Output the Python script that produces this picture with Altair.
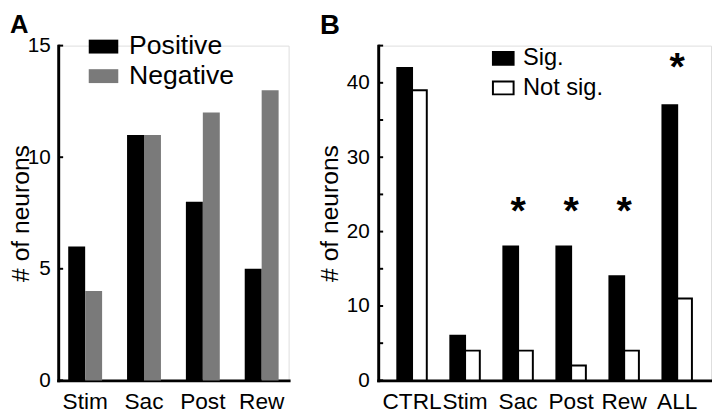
import altair as alt
import pandas as pd

FONT = "Liberation Sans"

# ---- Panel A data ----
a_cats = ["Stim", "Sac", "Post", "Rew"]
a_series = ["Positive", "Negative"]
a_positive = [6, 11, 8, 5]
a_negative = [4, 11, 12, 13]
a_ticks = [0, 5, 10, 15]

# ---- Panel B data ----
b_cats = ["CTRL", "Stim", "Sac", "Post", "Rew", "ALL"]
b_series = ["Sig.", "Not sig."]
b_sig = [42, 6, 18, 18, 14, 37]
b_not = [39, 4, 4, 2, 4, 11]
b_ticks = [0, 5, 10, 15, 20, 25, 30, 35, 40, 45]
b_labels = [0, 10, 20, 30, 40]
star_cats = ["Sac", "Post", "Rew", "ALL"]
star_y = [23.3, 23.3, 23.3, 42.6]

df_a = pd.DataFrame(
    [{"cat": c, "series": "Positive", "n": v} for c, v in zip(a_cats, a_positive)]
    + [{"cat": c, "series": "Negative", "n": v} for c, v in zip(a_cats, a_negative)]
)
df_b = pd.DataFrame(
    [{"cat": c, "series": "Sig.", "n": v} for c, v in zip(b_cats, b_sig)]
    + [{"cat": c, "series": "Not sig.", "n": v} for c, v in zip(b_cats, b_not)]
)
df_at = pd.DataFrame({"n": a_ticks})
df_bt = pd.DataFrame({"n": b_ticks})
df_star = pd.DataFrame({"cat": star_cats, "n": star_y})

A_W, A_H = 234, 340
B_W, B_H = 338, 340

def x_axis():
    return alt.Axis(title=None, labelAngle=0, tickSize=0, domainWidth=3,
                    domainColor="black", domainCap="square",
                    labelFontSize=23, labelPadding=11, labelColor="black",
                    labelFont=FONT)

def y_axis(values, title_x, pad):
    return alt.Axis(values=values, title="# of neurons", grid=False, tickSize=0,
                    domainWidth=3, domainColor="black", domainCap="square",
                    labelFontSize=21, labelPadding=pad, labelColor="black",
                    labelFont=FONT,
                    titleFontSize=25, titleFontWeight="normal", titleFont=FONT,
                    titleColor="black", titleAngle=270, titleBaseline="alphabetic",
                    titleAlign="center", titleX=title_x, titleY=170)

# ---------- Panel A ----------
ya = alt.Scale(domain=[0, 15], nice=False, zero=True)
xa = alt.Scale(domain=a_cats, paddingInner=0.424, paddingOuter=0.17)
ya_axis = y_axis(a_ticks, -30, 8)

bars_a = alt.Chart(df_a).mark_bar().encode(
    x=alt.X("cat:N", sort=a_cats, scale=xa, axis=x_axis()),
    xOffset=alt.XOffset("series:N", sort=a_series,
                        scale=alt.Scale(domain=a_series, paddingInner=0, paddingOuter=0)),
    y=alt.Y("n:Q", scale=ya, axis=ya_axis),
    color=alt.Color("series:N", sort=a_series,
                    scale=alt.Scale(domain=a_series, range=["#000000", "#7a7a7a"]),
                    legend=alt.Legend(title=None, orient="none", legendX=31, legendY=-14,
                                      symbolType="M-1,-0.47H1V0.47H-1Z", symbolSize=900,
                                      symbolStrokeWidth=0, labelFontSize=27,
                                      labelFont=FONT, labelColor="black",
                                      labelOffset=11, rowPadding=2, padding=0,
                                      symbolOffset=0)),
)

ticks_a = alt.Chart(df_at).mark_rule(color="black", strokeWidth=2).encode(
    y=alt.Y("n:Q", scale=ya, axis=ya_axis),
    x=alt.value(0),
    x2=alt.value(5),
)

label_a = alt.Chart(pd.DataFrame({"k": ["A"]})).mark_text(
    text="A", font=FONT, fontSize=26, fontWeight="bold", align="left",
    baseline="top", color="black"
).encode(x=alt.value(-49), y=alt.value(-34))

panel_a = alt.layer(bars_a, ticks_a, label_a).properties(width=A_W, height=A_H)

# ---------- Panel B ----------
yb = alt.Scale(domain=[0, 45], nice=False, zero=True)
xb = alt.Scale(domain=b_cats, paddingInner=0.444, paddingOuter=0.36)
yb_axis = y_axis(b_labels, -41, 9)
xb_axis = x_axis()

bars_b = alt.Chart(df_b).mark_bar(stroke="black", strokeWidth=2).encode(
    x=alt.X("cat:N", sort=b_cats, scale=xb, axis=xb_axis),
    xOffset=alt.XOffset("series:N", sort=b_series,
                        scale=alt.Scale(domain=b_series, paddingInner=0, paddingOuter=0)),
    y=alt.Y("n:Q", scale=yb, axis=yb_axis),
    color=alt.Color("series:N", sort=b_series,
                    scale=alt.Scale(domain=b_series, range=["#000000", "#ffffff"]),
                    legend=alt.Legend(title=None, orient="none", legendX=115, legendY=1,
                                      symbolType="M-1,-0.62H1V0.62H-1Z", symbolSize=441,
                                      symbolStrokeColor="black", symbolStrokeWidth=2,
                                      labelFontSize=24, labelFont=FONT, labelColor="black",
                                      labelOffset=8, rowPadding=6, padding=0,
                                      symbolOffset=0)),
)

ticks_b = alt.Chart(df_bt).mark_rule(color="black", strokeWidth=2).encode(
    y=alt.Y("n:Q", scale=yb, axis=yb_axis),
    x=alt.value(0),
    x2=alt.value(5),
)

stars_b = alt.Chart(df_star).mark_text(
    text="*", font=FONT, fontSize=40, fontWeight="bold", baseline="alphabetic",
    align="center", dy=17, color="black"
).encode(
    x=alt.X("cat:N", sort=b_cats, scale=xb, axis=xb_axis),
    y=alt.Y("n:Q", scale=yb, axis=yb_axis),
)

label_b = alt.Chart(pd.DataFrame({"k": ["B"]})).mark_text(
    text="B", font=FONT, fontSize=28, fontWeight="bold", align="left",
    baseline="top", color="black"
).encode(x=alt.value(-59), y=alt.value(-34))

panel_b = alt.layer(bars_b, ticks_b, stars_b, label_b).properties(width=B_W, height=B_H)

chart = alt.hconcat(panel_a, panel_b, spacing=91, bounds="flush").resolve_scale(
    color="independent", x="independent", y="independent", xOffset="independent"
).properties(padding=0).configure_view(stroke=None).configure(font=FONT)

chart.save("out.html", embed_options={"renderer": "svg", "actions": False})
